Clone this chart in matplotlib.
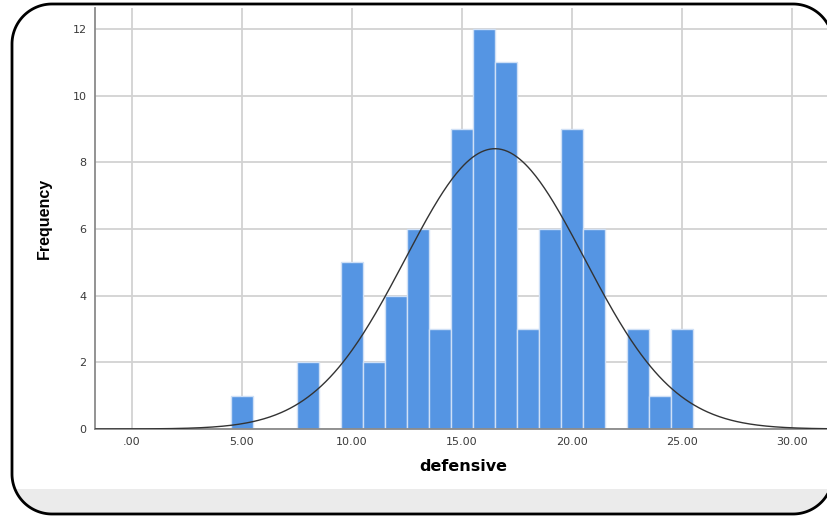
import numpy as np
import matplotlib
matplotlib.use("Agg")
import matplotlib.pyplot as plt
from matplotlib.patches import Polygon, Rectangle

# Data (histogram of 'defensive', bin width 1, centered on integers)
bin_centers = [5, 8, 10, 11, 12, 13, 14, 15, 16, 17, 18, 19, 20, 21, 23, 24, 25]
frequencies = [1, 2, 5, 2, 4, 6, 3, 9, 12, 11, 3, 6, 9, 6, 3, 1, 3]
x_ticks = [0, 5, 10, 15, 20, 25, 30]
x_tick_labels = [".00", "5.00", "10.00", "15.00", "20.00", "25.00", "30.00"]
y_ticks = [0, 2, 4, 6, 8, 10, 12]
curve_mean = 16.5
curve_sd = 4.08
bin_width = 1.0

W, H = 828, 518
fig = plt.figure(figsize=(W / 100, H / 100), dpi=100)

# Background frame axes in pixel coordinates (y measured from bottom)
bg = fig.add_axes([0, 0, 1, 1])
bg.set_xlim(0, W)
bg.set_ylim(0, H)
bg.axis("off")


def rounded_rect(x0, y0, x1, y1, r, n=40):
    pts = []
    corners = [(x1 - r, y1 - r, 0), (x0 + r, y1 - r, 90), (x0 + r, y0 + r, 180), (x1 - r, y0 + r, 270)]
    for cx, cy, a0 in corners:
        t = np.radians(np.linspace(a0, a0 + 90, n))
        pts.extend(zip(cx + r * np.cos(t), cy + r * np.sin(t)))
    return np.array(pts)


verts = rounded_rect(12, H - 514, 833, H - 4, 40)
frame = Polygon(verts, closed=True, facecolor="white", edgecolor="none", zorder=1)
bg.add_patch(frame)
band = Rectangle((0, 0), W + 20, H - 489, facecolor="#ebebeb", edgecolor="none", zorder=2)
bg.add_patch(band)
band.set_clip_path(frame)
frame2 = Polygon(verts, closed=True, facecolor="none", edgecolor="black", linewidth=2, zorder=3)
bg.add_patch(frame2)

# Main axes
left_px, right_px, top_px, bottom_px = 95, 828, 8, 429
axw = right_px - left_px
axh = bottom_px - top_px
ax = fig.add_axes([left_px / W, (H - bottom_px) / H, axw / W, axh / H])
ax.set_facecolor("none")
px_per_unit_x = 22.0
x0_px = 132
ax.set_xlim((left_px - x0_px) / px_per_unit_x, (right_px - x0_px) / px_per_unit_x)
py_per_unit = (429 - 29) / 12.0
ax.set_ylim(0, axh / py_per_unit)

ax.bar(bin_centers, frequencies, width=bin_width, color="#5595e3",
       edgecolor="#cfe0f6", linewidth=1.0, zorder=2)

xs = np.linspace(ax.get_xlim()[0], ax.get_xlim()[1], 500)
n = sum(frequencies)
ys = n * bin_width / (curve_sd * np.sqrt(2 * np.pi)) * np.exp(-0.5 * ((xs - curve_mean) / curve_sd) ** 2)
ax.plot(xs, ys, color="#333333", linewidth=1.0, zorder=3)

ax.set_xticks(x_ticks)
ax.set_xticklabels(x_tick_labels)
ax.set_yticks(y_ticks)
ax.grid(True, color="#d2d2d2", linewidth=1.3, zorder=0)
ax.set_axisbelow(True)
ax.tick_params(length=0, colors="#3a3a3a", pad=6)
for lab in ax.get_xticklabels() + ax.get_yticklabels():
    lab.set_family("DejaVu Sans")
    lab.set_fontsize(8)
for s in ["top", "right"]:
    ax.spines[s].set_visible(False)
for s in ["left", "bottom"]:
    ax.spines[s].set_color("#8a8a8a")
    ax.spines[s].set_linewidth(1.3)

ax.set_xlabel("defensive", fontsize=11.5, fontweight="bold", family="DejaVu Sans")
ax.xaxis.set_label_coords((463 - left_px) / axw, -(459 - bottom_px) / axh)
ax.set_ylabel("Frequency", fontsize=11.5, fontweight="bold", family="Liberation Sans")
ax.yaxis.set_label_coords((52 - left_px) / axw, (bottom_px - 218) / axh)

fig.savefig("out.png", dpi=100)
